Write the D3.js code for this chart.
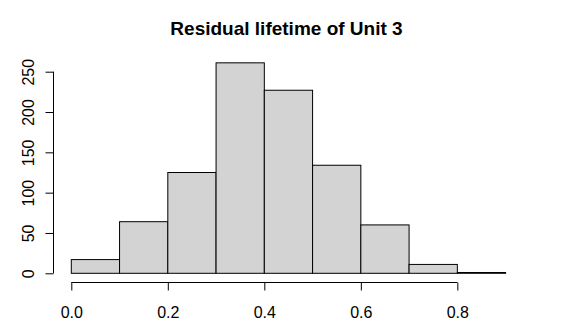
<!DOCTYPE html>
<html>
<head>
<meta charset="utf-8">
<script src="https://cdn.jsdelivr.net/npm/d3@7"></script>
<style>
	body { margin: 0; background: #fff; }
	text { font-family: "Liberation Sans", Arial, sans-serif; fill: #000; }
</style>
</head>
<body>
<svg id="chart" width="577" height="336"></svg>
<script>
var binStarts = [0.0, 0.1, 0.2, 0.3, 0.4, 0.5, 0.6, 0.7, 0.8];
var binWidth = 0.1;
var counts = [17, 64, 125, 261, 227, 134, 60, 11, 1];
var xTicks = [0.0, 0.2, 0.4, 0.6, 0.8];
var yTicks = [0, 50, 100, 150, 200, 250];
var title = "Residual lifetime of Unit 3";

var svg = d3.select("#chart");

var x = d3.scaleLinear().domain([0, 0.9]).range([71.3, 505.6]);
var y = d3.scaleLinear().domain([0, 250]).range([273.3, 71.7]);

// bars
svg.append("g")
	.selectAll("rect")
	.data(binStarts)
	.enter()
	.append("rect")
	.attr("x", function (d) { return x(d); })
	.attr("width", function (d) { return x(d + binWidth) - x(d); })
	.attr("y", function (d, i) { return y(counts[i]); })
	.attr("height", function (d, i) { return y(0) - y(counts[i]); })
	.attr("fill", "#d3d3d3")
	.attr("stroke", "#000")
	.attr("stroke-width", 1);

// x axis
var xAxis = svg.append("g")
	.attr("transform", "translate(0,282.5)")
	.call(d3.axisBottom(x).tickValues(xTicks).tickSize(8).tickPadding(16)
		.tickFormat(d3.format(".1f")));
xAxis.select(".domain").attr("d", "M" + x(0) + ",0H" + x(0.8));

// y axis
var yAxis = svg.append("g")
	.attr("transform", "translate(53.5,0)")
	.call(d3.axisLeft(y).tickValues(yTicks).tickSize(8).tickPadding(0));
yAxis.select(".domain").attr("d", "M0," + y(0) + "V" + y(250));
yAxis.selectAll(".tick text")
	.attr("x", null).attr("dy", null)
	.attr("text-anchor", "middle")
	.attr("transform", "translate(-20,0) rotate(-90)");

svg.selectAll(".tick line, .domain").attr("stroke", "#000").attr("stroke-width", 1);
svg.selectAll(".tick text").attr("font-size", 16).attr("font-family", "Liberation Sans, Arial, sans-serif").attr("fill", "#000");

// title
svg.append("text")
	.attr("x", 286.5)
	.attr("y", 35)
	.attr("text-anchor", "middle")
	.attr("font-size", 19)
	.attr("font-weight", "bold")
	.text(title);
</script>
</body>
</html>
